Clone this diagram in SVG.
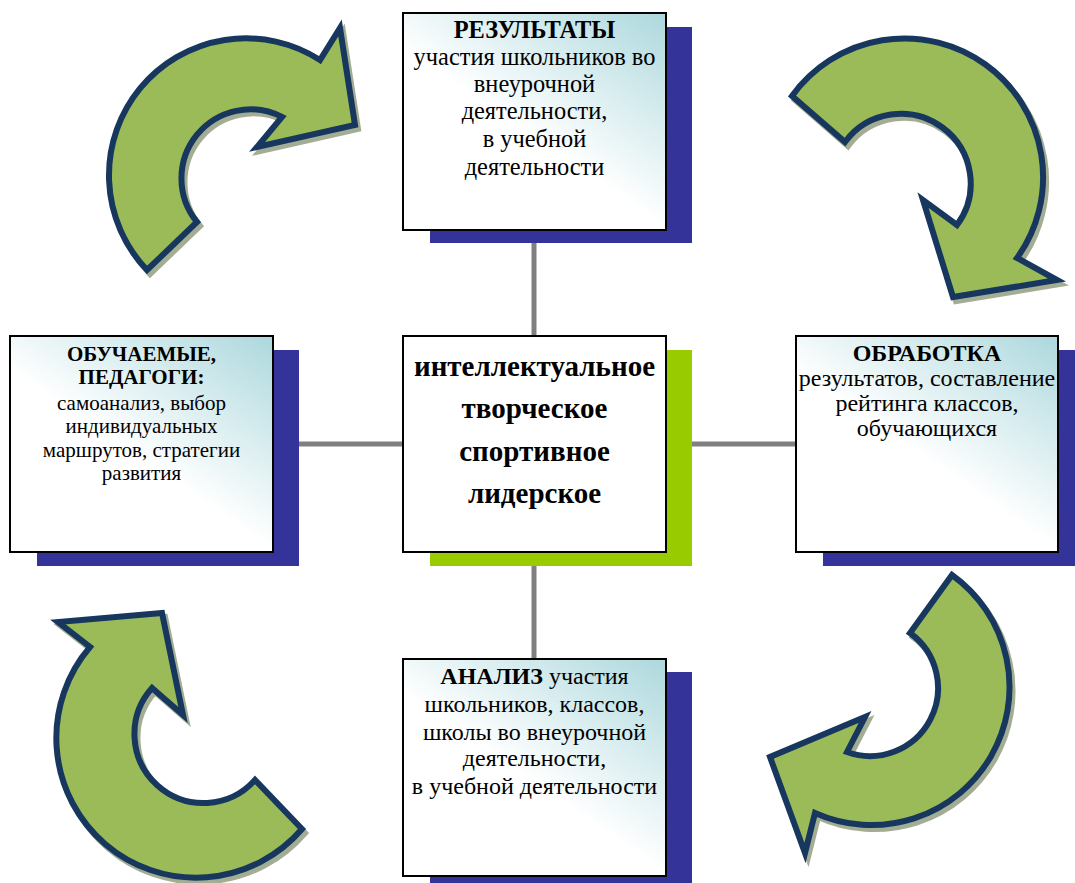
<svg xmlns="http://www.w3.org/2000/svg" width="1075" height="883" viewBox="0 0 1075 883">
<defs>
<linearGradient id="boxg" x1="1" y1="0" x2="0.25" y2="0.9">
<stop offset="0" stop-color="#acd8dd"/>
<stop offset="0.65" stop-color="#ffffff"/>
<stop offset="1" stop-color="#ffffff"/>
</linearGradient>
<style>
.box{fill:url(#boxg);stroke:#000;stroke-width:2}
.cbox{fill:#fff;stroke:#000;stroke-width:2}
.shd{fill:#333399}
.gshd{fill:#99cc00}
.conn{stroke:#808080;stroke-width:5;fill:none}
.arr{fill:#9bbb59;stroke:#17375e;stroke-width:6;stroke-linejoin:miter}
.arrs{fill:#a3ad93;stroke:#a3ad93;stroke-width:6}
text{font-family:"Liberation Serif","Times New Roman",serif;fill:#000;text-anchor:middle}
.b{font-weight:bold}
</style>
</defs>
<rect width="1075" height="883" fill="#fff"/>

<g id="connectors">
<line class="conn" x1="534" y1="243" x2="534" y2="336"/>
<line class="conn" x1="534" y1="566" x2="534" y2="659"/>
<line class="conn" x1="299" y1="444" x2="403" y2="444"/>
<line class="conn" x1="692" y1="444" x2="796" y2="444"/>
</g>

<g id="arrow-top-left">
<path class="arrs" transform="translate(3,4)" d="M147,270 A137 137 0 0 1 320,60 L340,28 L355,125 L257,147 L282,117 A69 69 0 0 0 197,222 Z"/>
<path class="arr" d="M147,270 A137 137 0 0 1 320,60 L340,28 L355,125 L257,147 L282,117 A69 69 0 0 0 197,222 Z"/>
</g>
<g id="arrow-top-right">
<path class="arrs" transform="translate(3,4)" d="M792,96 A138 138 0 0 1 1017,258 L1057,280 L953,297 L923,200 L957,225 A69 69 0 0 0 845,142 Z"/>
<path class="arr" d="M792,96 A138 138 0 0 1 1017,258 L1057,280 L953,297 L923,200 L957,225 A69 69 0 0 0 845,142 Z"/>
</g>
<g id="arrow-bottom-right">
<path class="arrs" transform="translate(3,4)" d="M952,575 A138 138 0 0 1 815,813 L805,853 L770,757 L865,717 L847,752 A68 68 0 0 0 910,633 Z"/>
<path class="arr" d="M952,575 A138 138 0 0 1 815,813 L805,853 L770,757 L865,717 L847,752 A68 68 0 0 0 910,633 Z"/>
</g>
<g id="arrow-bottom-left">
<path class="arrs" transform="translate(3,4)" d="M302,829 A138 138 0 0 1 90,647 L58,622 L162,613 L183,715 L152,688 A68 68 0 0 0 255,780 Z"/>
<path class="arr" d="M302,829 A138 138 0 0 1 90,647 L58,622 L162,613 L183,715 L152,688 A68 68 0 0 0 255,780 Z"/>
</g>

<g id="node-results">
<rect class="shd" x="430" y="27" width="262" height="216"/>
<rect class="box" x="403" y="13" width="263" height="217"/>
<g font-size="24.4">
<text x="534.5" y="38" class="b">РЕЗУЛЬТАТЫ</text>
<text x="534.5" y="65">участия школьников во</text>
<text x="534.5" y="92">внеурочной</text>
<text x="534.5" y="119">деятельности,</text>
<text x="534.5" y="147">в учебной</text>
<text x="534.5" y="175">деятельности</text>
</g>
</g>

<g id="node-center">
<rect class="gshd" x="430" y="350" width="262" height="216"/>
<rect class="cbox" x="403" y="336" width="263" height="216"/>
<g font-size="29" class="b">
<text x="534.5" y="376">интеллектуальное</text>
<text x="534.5" y="418">творческое</text>
<text x="534.5" y="461">спортивное</text>
<text x="534.5" y="503">лидерское</text>
</g>
</g>

<g id="node-learners">
<rect class="shd" x="37" y="350" width="262" height="216"/>
<rect class="box" x="10" y="336" width="263" height="216"/>
<g font-size="21">
<text x="141.5" y="361" class="b">ОБУЧАЕМЫЕ,</text>
<text x="141.5" y="384" class="b">ПЕДАГОГИ:</text>
<text x="141.5" y="410">самоанализ, выбор</text>
<text x="141.5" y="433">индивидуальных</text>
<text x="141.5" y="457">маршрутов, стратегии</text>
<text x="141.5" y="480">развития</text>
</g>
</g>

<g id="node-processing">
<rect class="shd" x="823" y="350" width="252" height="216"/>
<rect class="box" x="796" y="336" width="262" height="216"/>
<g font-size="24">
<text x="927" y="361" class="b">ОБРАБОТКА</text>
<text x="927" y="386">результатов, составление</text>
<text x="927" y="411">рейтинга классов,</text>
<text x="927" y="436">обучающихся</text>
</g>
</g>

<g id="node-analysis">
<rect class="shd" x="430" y="672" width="262" height="211"/>
<rect class="box" x="403" y="659" width="263" height="217"/>
<g font-size="24">
<text x="534.5" y="684"><tspan class="b">АНАЛИЗ</tspan> участия</text>
<text x="534.5" y="712">школьников, классов,</text>
<text x="534.5" y="740">школы во внеурочной</text>
<text x="534.5" y="766">деятельности,</text>
<text x="534.5" y="794">в учебной деятельности</text>
</g>
</g>
</svg>
